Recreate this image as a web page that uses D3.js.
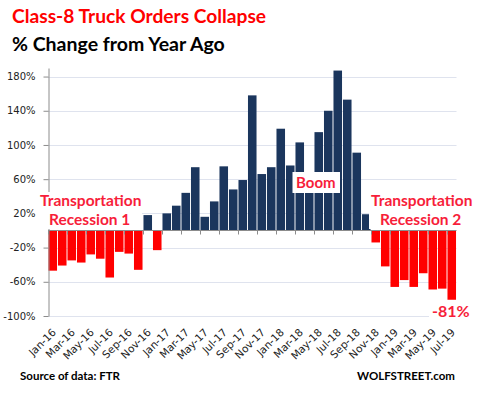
<!DOCTYPE html>
<html>
<head>
<meta charset="utf-8">
<script src="https://cdn.jsdelivr.net/npm/d3@7"></script>
<style>
  body { margin: 0; background: #fff; }
  svg { display: block; }
</style>
</head>
<body>
<div id="chart"></div>
<script>
// months, Jan-16 .. Jul-19
const months = ["Jan-16","Feb-16","Mar-16","Apr-16","May-16","Jun-16","Jul-16","Aug-16","Sep-16","Oct-16","Nov-16","Dec-16",
  "Jan-17","Feb-17","Mar-17","Apr-17","May-17","Jun-17","Jul-17","Aug-17","Sep-17","Oct-17","Nov-17","Dec-17",
  "Jan-18","Feb-18","Mar-18","Apr-18","May-18","Jun-18","Jul-18","Aug-18","Sep-18","Oct-18","Nov-18","Dec-18",
  "Jan-19","Feb-19","Mar-19","Apr-19","May-19","Jun-19","Jul-19"];
// % change from year ago
const changes = [-47,-41,-35,-37.5,-28,-33,-55,-25,-27,-46,18,-23,
  20,29,44,74,16,34,75,48,59,158,66,74,
  119,76,103,65,115,140,187,153,91,19,-14,-42,
  -66,-58,-66,-50,-69,-68,-81];
const yTicks = [-100,-60,-20,20,60,100,140,180];
const xTickLabels = months.filter((d,i) => i % 2 === 0);

const width = 477, height = 395;
const navy = "#1b365d", red = "#ff0000", noteRed = "#f71e3a";

const svg = d3.select("#chart").append("svg")
    .attr("width", width)
    .attr("height", height);

const x = d3.scaleBand()
    .domain(months)
    .range([48, 456.5])
    .paddingInner(0.1)
    .paddingOuter(0.05);

const y = d3.scaleLinear()
    .domain([-100, 190])
    .range([316, 68]);

// gridlines
svg.append("g")
    .selectAll("line")
    .data(yTicks)
    .join("line")
    .attr("x1", 48).attr("x2", 456.5)
    .attr("y1", d => Math.round(y(d)) + 0.5)
    .attr("y2", d => Math.round(y(d)) + 0.5)
    .attr("stroke", "#dfe3ee")
    .attr("stroke-width", 1);

// bars
svg.append("g")
    .selectAll("rect")
    .data(changes)
    .join("rect")
    .attr("x", (d,i) => x(months[i]))
    .attr("width", x.bandwidth())
    .attr("y", d => y(Math.max(0, d)))
    .attr("height", d => Math.abs(y(d) - y(0)))
    .attr("fill", d => d >= 0 ? navy : red);

// zero line with tick marks at every other month boundary
const zeroY = Math.round(y(0)) + 0.5;
const gap = (x.step() - x.bandwidth()) / 2;
const zeroG = svg.append("g").attr("stroke", "#8c8c8c");
zeroG.append("line")
    .attr("x1", 48).attr("x2", 456.5)
    .attr("y1", zeroY).attr("y2", zeroY);
zeroG.selectAll(".zt")
    .data(xTickLabels)
    .join("line")
    .attr("class", "zt")
    .attr("x1", d => Math.round(x(d) - gap) + 0.5)
    .attr("x2", d => Math.round(x(d) - gap) + 0.5)
    .attr("y1", zeroY).attr("y2", zeroY + 4);

// y axis
const yAxis = svg.append("g")
    .attr("transform", "translate(48.5,0)")
    .call(d3.axisLeft(y).tickValues(yTicks).tickSize(5).tickSizeOuter(0).tickPadding(8)
        .tickFormat(d => d + "%"));
yAxis.select(".domain").attr("stroke", "#8c8c8c");
yAxis.selectAll(".tick line").attr("stroke", "#8c8c8c");
yAxis.selectAll("text")
    .attr("font-family", "DejaVu Sans, sans-serif")
    .attr("font-size", 10)
    .attr("fill", "#222");

// x axis labels (bottom)
const xAxis = svg.append("g")
    .attr("transform", "translate(0,316)")
    .call(d3.axisBottom(x).tickValues(xTickLabels).tickSize(0).tickSizeOuter(0));
xAxis.select(".domain").remove();
xAxis.selectAll("text")
    .attr("font-family", "DejaVu Sans, sans-serif")
    .attr("font-size", 10.5)
    .attr("fill", "#222")
    .attr("x", 0).attr("y", 0).attr("dy", 0)
    .attr("text-anchor", "end")
    .attr("transform", "translate(4,17) rotate(-45)");

// annotations with white boxes
function note(lines, box, size) {
  const g = svg.append("g");
  g.append("rect")
      .attr("x", box[0]).attr("y", box[1])
      .attr("width", box[2]).attr("height", box[3])
      .attr("fill", "#fff");
  lines.forEach(l => {
    g.append("text")
        .attr("x", l[1]).attr("y", l[2])
        .attr("font-family", "Lato, sans-serif")
        .attr("font-weight", "bold")
        .attr("font-size", size)
        .attr("fill", noteRed)
        .text(l[0]);
  });
}
note([["Transportation", 40, 206], ["Recession 1", 49, 225]], [38, 192, 104, 37], 15.5);
note([["Transportation", 371, 206], ["Recession 2", 380, 225]], [369, 192, 108, 37], 15.5);
note([["Boom", 296, 188]], [292.5, 172, 47.5, 21], 15);
note([["-81%", 432, 317]], [429, 303, 38, 19], 16);

// titles
svg.append("text")
    .attr("x", 12).attr("y", 23)
    .attr("font-family", "Lato, sans-serif")
    .attr("font-weight", "bold")
    .attr("font-size", 19.2)
    .attr("fill", red)
    .text("Class-8 Truck Orders Collapse");
svg.append("text")
    .attr("x", 12).attr("y", 51)
    .attr("font-family", "Lato, sans-serif")
    .attr("font-weight", "bold")
    .attr("font-size", 19.5)
    .attr("fill", "#000")
    .text("% Change from Year Ago");

// footer
svg.append("text")
    .attr("x", 20).attr("y", 380)
    .attr("font-family", "Lato, sans-serif")
    .attr("font-weight", "bold")
    .attr("font-size", 11.5)
    .attr("fill", "#000")
    .text("Source of data: FTR");
svg.append("text")
    .attr("x", 455).attr("y", 380)
    .attr("text-anchor", "end")
    .attr("font-family", "Lato, sans-serif")
    .attr("font-weight", "bold")
    .attr("font-size", 11.5)
    .attr("fill", "#000")
    .text("WOLFSTREET.com");
</script>
</body>
</html>
